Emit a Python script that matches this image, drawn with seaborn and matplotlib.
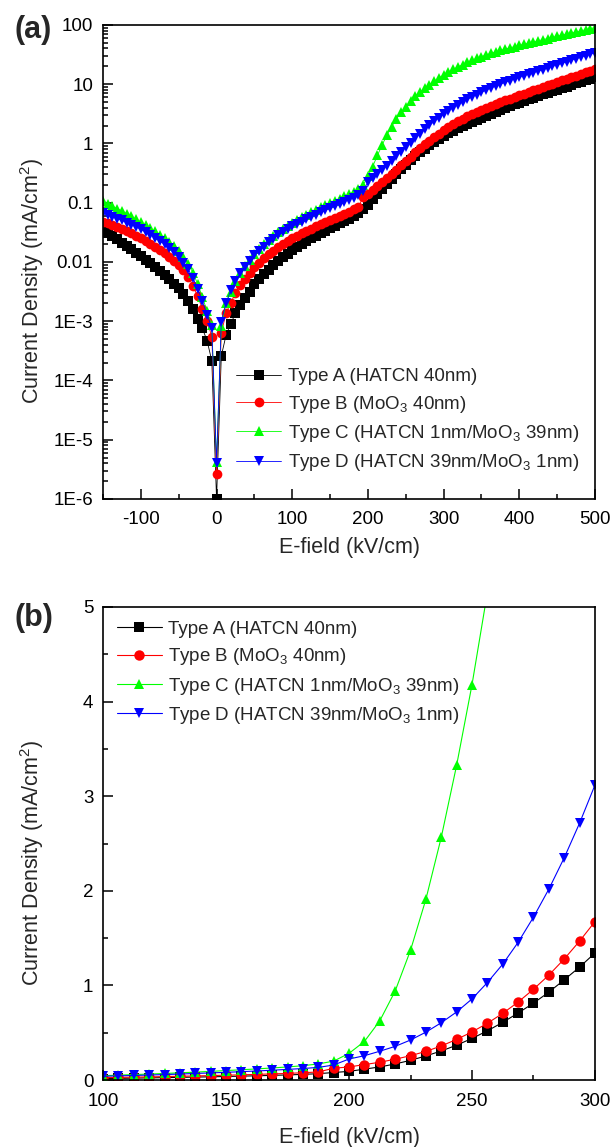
import numpy as np
import pandas as pd
import matplotlib
matplotlib.use("Agg")
import matplotlib.pyplot as plt
import matplotlib.ticker as mticker
import seaborn as sns

# E-field sweep (kV/cm), one point every 6.25 kV/cm
field = [-150, -143.75, -137.5, -131.25, -125, -118.75, -112.5, -106.25,
         -100, -93.75, -87.5, -81.25, -75, -68.75, -62.5, -56.25,
         -50, -43.75, -37.5, -31.25, -25, -18.75, -12.5, -6.25,
         0, 6.25, 12.5, 18.75, 25, 31.25, 37.5, 43.75,
         50, 56.25, 62.5, 68.75, 75, 81.25, 87.5, 93.75,
         100, 106.25, 112.5, 118.75, 125, 131.25, 137.5, 143.75,
         150, 156.25, 162.5, 168.75, 175, 181.25, 187.5, 193.75,
         200, 206.25, 212.5, 218.75, 225, 231.25, 237.5, 243.75,
         250, 256.25, 262.5, 268.75, 275, 281.25, 287.5, 293.75,
         300, 306.25, 312.5, 318.75, 325, 331.25, 337.5, 343.75,
         350, 356.25, 362.5, 368.75, 375, 381.25, 387.5, 393.75,
         400, 406.25, 412.5, 418.75, 425, 431.25, 437.5, 443.75,
         450, 456.25, 462.5, 468.75, 475, 481.25, 487.5, 493.75, 500]

# log10 of current density (mA/cm2) (a)
log_j_a = [-1.45, -1.51, -1.565, -1.62, -1.675, -1.73, -1.785, -1.845,
           -1.905, -1.965, -2.025, -2.09, -2.155, -2.22, -2.29, -2.365,
           -2.445, -2.54, -2.655, -2.80, -2.96, -3.12, -3.33, -3.67,
           -6.0, -3.59, -3.24, -3.04, -2.87, -2.73, -2.61, -2.50,
           -2.38, -2.29, -2.21, -2.13, -2.06, -1.99, -1.92, -1.86,
           -1.80, -1.75, -1.70, -1.65, -1.60, -1.555, -1.51, -1.47,
           -1.43, -1.39, -1.35, -1.31, -1.27, -1.225, -1.175, -1.10,
           -1.04, -0.939, -0.86, -0.77, -0.682, -0.594, -0.513, -0.434,
           -0.357, -0.284, -0.215, -0.150, -0.090, -0.032, 0.025, 0.077,
           0.128, 0.173, 0.214, 0.253, 0.290, 0.327, 0.363, 0.398,
           0.431, 0.464, 0.497, 0.529, 0.560, 0.593, 0.626, 0.658,
           0.690, 0.718, 0.746, 0.773, 0.800, 0.826, 0.852, 0.878,
           0.903, 0.930, 0.958, 0.985, 1.013, 1.038, 1.063, 1.089, 1.114]

log_j_b = [-1.32, -1.35, -1.38, -1.41, -1.445, -1.48, -1.515, -1.555,
           -1.595, -1.64, -1.69, -1.74, -1.795, -1.855, -1.915, -1.98,
           -2.05, -2.14, -2.25, -2.40, -2.58, -2.79, -3.00, -3.26,
           -5.585, -3.20, -2.87, -2.69, -2.53, -2.39, -2.28, -2.18,
           -2.09, -2.01, -1.94, -1.87, -1.81, -1.75, -1.70, -1.65,
           -1.60, -1.56, -1.52, -1.48, -1.44, -1.40, -1.365, -1.33,
           -1.295, -1.26, -1.225, -1.19, -1.155, -1.115, -1.07, -0.905,
           -0.86, -0.788, -0.726, -0.658, -0.590, -0.519, -0.444, -0.367,
           -0.294, -0.222, -0.152, -0.084, -0.018, 0.045, 0.107, 0.167,
           0.224, 0.277, 0.326, 0.372, 0.415, 0.456, 0.495, 0.532,
           0.568, 0.602, 0.635, 0.667, 0.699, 0.728, 0.757, 0.785,
           0.813, 0.841, 0.869, 0.897, 0.925, 0.953, 0.980, 1.008,
           1.035, 1.063, 1.090, 1.118, 1.145, 1.173, 1.200, 1.228, 1.255]

log_j_c = [-0.98, -1.02, -1.06, -1.10, -1.14, -1.185, -1.23, -1.28,
           -1.33, -1.38, -1.43, -1.485, -1.54, -1.60, -1.665, -1.735,
           -1.815, -1.91, -2.03, -2.18, -2.37, -2.59, -2.83, -3.06,
           -5.37, -3.08, -2.70, -2.50, -2.33, -2.19, -2.07, -1.96,
           -1.86, -1.78, -1.70, -1.63, -1.56, -1.50, -1.44, -1.39,
           -1.34, -1.29, -1.24, -1.20, -1.16, -1.12, -1.08, -1.04,
           -1.00, -0.965, -0.93, -0.895, -0.86, -0.82, -0.77, -0.70,
           -0.55, -0.39, -0.204, -0.027, 0.137, 0.281, 0.409, 0.522,
           0.621, 0.712, 0.792, 0.863, 0.929, 0.991, 1.049, 1.104,
           1.155, 1.203, 1.248, 1.290, 1.330, 1.367, 1.402, 1.435,
           1.465, 1.493, 1.519, 1.544, 1.568, 1.590, 1.612, 1.633,
           1.653, 1.673, 1.693, 1.713, 1.732, 1.751, 1.769, 1.788,
           1.806, 1.825, 1.843, 1.862, 1.880, 1.899, 1.917, 1.936, 1.954]

log_j_d = [-1.18, -1.21, -1.24, -1.27, -1.30, -1.335, -1.37, -1.41,
           -1.45, -1.495, -1.54, -1.59, -1.645, -1.70, -1.765, -1.835,
           -1.915, -2.01, -2.125, -2.27, -2.45, -2.66, -2.89, -3.11,
           -5.40, -3.01, -2.69, -2.48, -2.32, -2.19, -2.08, -1.98,
           -1.89, -1.81, -1.74, -1.67, -1.61, -1.55, -1.50, -1.45,
           -1.40, -1.36, -1.32, -1.28, -1.24, -1.20, -1.16, -1.125,
           -1.09, -1.055, -1.02, -0.985, -0.95, -0.915, -0.875, -0.80,
           -0.654, -0.59, -0.517, -0.449, -0.374, -0.296, -0.218, -0.143,
           -0.067, 0.013, 0.088, 0.163, 0.236, 0.305, 0.371, 0.434,
           0.494, 0.551, 0.604, 0.653, 0.699, 0.743, 0.785, 0.825,
           0.863, 0.899, 0.934, 0.968, 1.000, 1.030, 1.059, 1.087,
           1.114, 1.141, 1.168, 1.194, 1.220, 1.246, 1.272, 1.299,
           1.325, 1.351, 1.377, 1.404, 1.430, 1.455, 1.480, 1.506, 1.531]

device_labels = ["Type A (HATCN 40nm)",
                 "Type B (MoO$_3$ 40nm)",
                 "Type C (HATCN 1nm/MoO$_3$ 39nm)",
                 "Type D (HATCN 39nm/MoO$_3$ 1nm)"]
log_y_ticks = [100, 10, 1, 0.1, 0.01, 1e-3, 1e-4, 1e-5, 1e-6]
log_y_ticklabels = ["100", "10", "1", "0.1", "0.01", "1E-3", "1E-4", "1E-5", "1E-6"]

# long table for seaborn
frames = []
for lab, lj in zip(device_labels, [log_j_a, log_j_b, log_j_c, log_j_d]):
    assert len(lj) == len(field)
    frames.append(pd.DataFrame({"field": field, "J": np.power(10.0, lj), "device": lab}))
data = pd.concat(frames, ignore_index=True)

colors = dict(zip(device_labels, ["#000000", "#ff0000", "#00ff00", "#0000ff"]))
markers = dict(zip(device_labels, ["s", "o", "^", "v"]))

sns.set_style("ticks")
plt.rcParams["font.family"] = ["Liberation Sans", "DejaVu Sans"]
plt.rcParams["mathtext.fontset"] = "custom"
plt.rcParams["mathtext.rm"] = "Liberation Sans"
plt.rcParams["mathtext.it"] = "Liberation Sans:italic"
plt.rcParams["mathtext.bf"] = "Liberation Sans:bold"
plt.rcParams["axes.linewidth"] = 1.2
plt.rcParams["axes.unicode_minus"] = False

fig = plt.figure(figsize=(6.11, 11.47), dpi=100)
ax1 = fig.add_axes([0.1686, 0.565, 0.8052, 0.4133])
ax2 = fig.add_axes([0.1686, 0.0584, 0.8052, 0.4124])

# (a) log scale
sns.lineplot(data=data, x="field", y="J", hue="device", style="device",
             hue_order=device_labels, style_order=device_labels,
             palette=colors, markers=markers, dashes=False,
             markersize=7, markeredgewidth=0, linewidth=0.6, ax=ax1)
ax1.set_yscale("log")
ax1.set_xlim(-150, 500)
ax1.set_ylim(1e-6, 100)
ax1.set_yticks(log_y_ticks)
ax1.set_yticklabels(log_y_ticklabels)
ax1.yaxis.set_minor_locator(mticker.LogLocator(base=10, subs=np.arange(2, 10), numticks=20))
ax1.yaxis.set_minor_formatter(mticker.NullFormatter())
ax1.xaxis.set_major_locator(mticker.MultipleLocator(100))
ax1.xaxis.set_minor_locator(mticker.MultipleLocator(50))
sns.move_legend(ax1, "lower right", bbox_to_anchor=(0.99, 0.03), title=None,
                frameon=False, fontsize=13.5, handlelength=2.4,
                handletextpad=0.35, labelspacing=0.45, borderaxespad=0.2)

# (b) linear scale, zoom on 100-300 kV/cm
sns.lineplot(data=data, x="field", y="J", hue="device", style="device",
             hue_order=device_labels, style_order=device_labels,
             palette=colors, markers=markers, dashes=False,
             markersize=7.5, markeredgewidth=0, linewidth=0.8, ax=ax2)
ax2.set_xlim(100, 300)
ax2.set_ylim(0, 5)
ax2.xaxis.set_major_locator(mticker.MultipleLocator(50))
ax2.xaxis.set_minor_locator(mticker.MultipleLocator(25))
ax2.yaxis.set_major_locator(mticker.MultipleLocator(1))
ax2.yaxis.set_minor_locator(mticker.MultipleLocator(0.5))
sns.move_legend(ax2, "upper left", bbox_to_anchor=(0.005, 0.995), title=None,
                frameon=False, fontsize=13.5, handlelength=2.4,
                handletextpad=0.35, labelspacing=0.45, borderaxespad=0.2)

for ax, xl_y in [(ax1, -0.08), (ax2, -0.099)]:
    for s in ax.spines.values():
        s.set_visible(True)
        s.set_linewidth(1.2)
        s.set_color("black")
    ax.tick_params(which="both", direction="in", top=False, right=False,
                   labelsize=13.5, width=1.1, colors="black")
    ax.tick_params(which="major", length=7, pad=7)
    ax.tick_params(which="minor", length=3.5)
    ax.tick_params(axis="x", which="major", pad=9)
    ax.set_xlabel("E-field (kV/cm)", fontsize=15.5)
    ax.set_ylabel("Current Density (mA/cm$^2$)", fontsize=15.5)
    ax.xaxis.set_label_coords(0.5, xl_y)
    ax.yaxis.set_label_coords(-0.116, 0.46)
    ax.grid(False)

fig.text(0.055, 0.974, "(a)", fontsize=22, fontweight="bold", ha="center", va="center")
fig.text(0.055, 0.461, "(b)", fontsize=22, fontweight="bold", ha="center", va="center")

fig.savefig("out.png", dpi=100)
